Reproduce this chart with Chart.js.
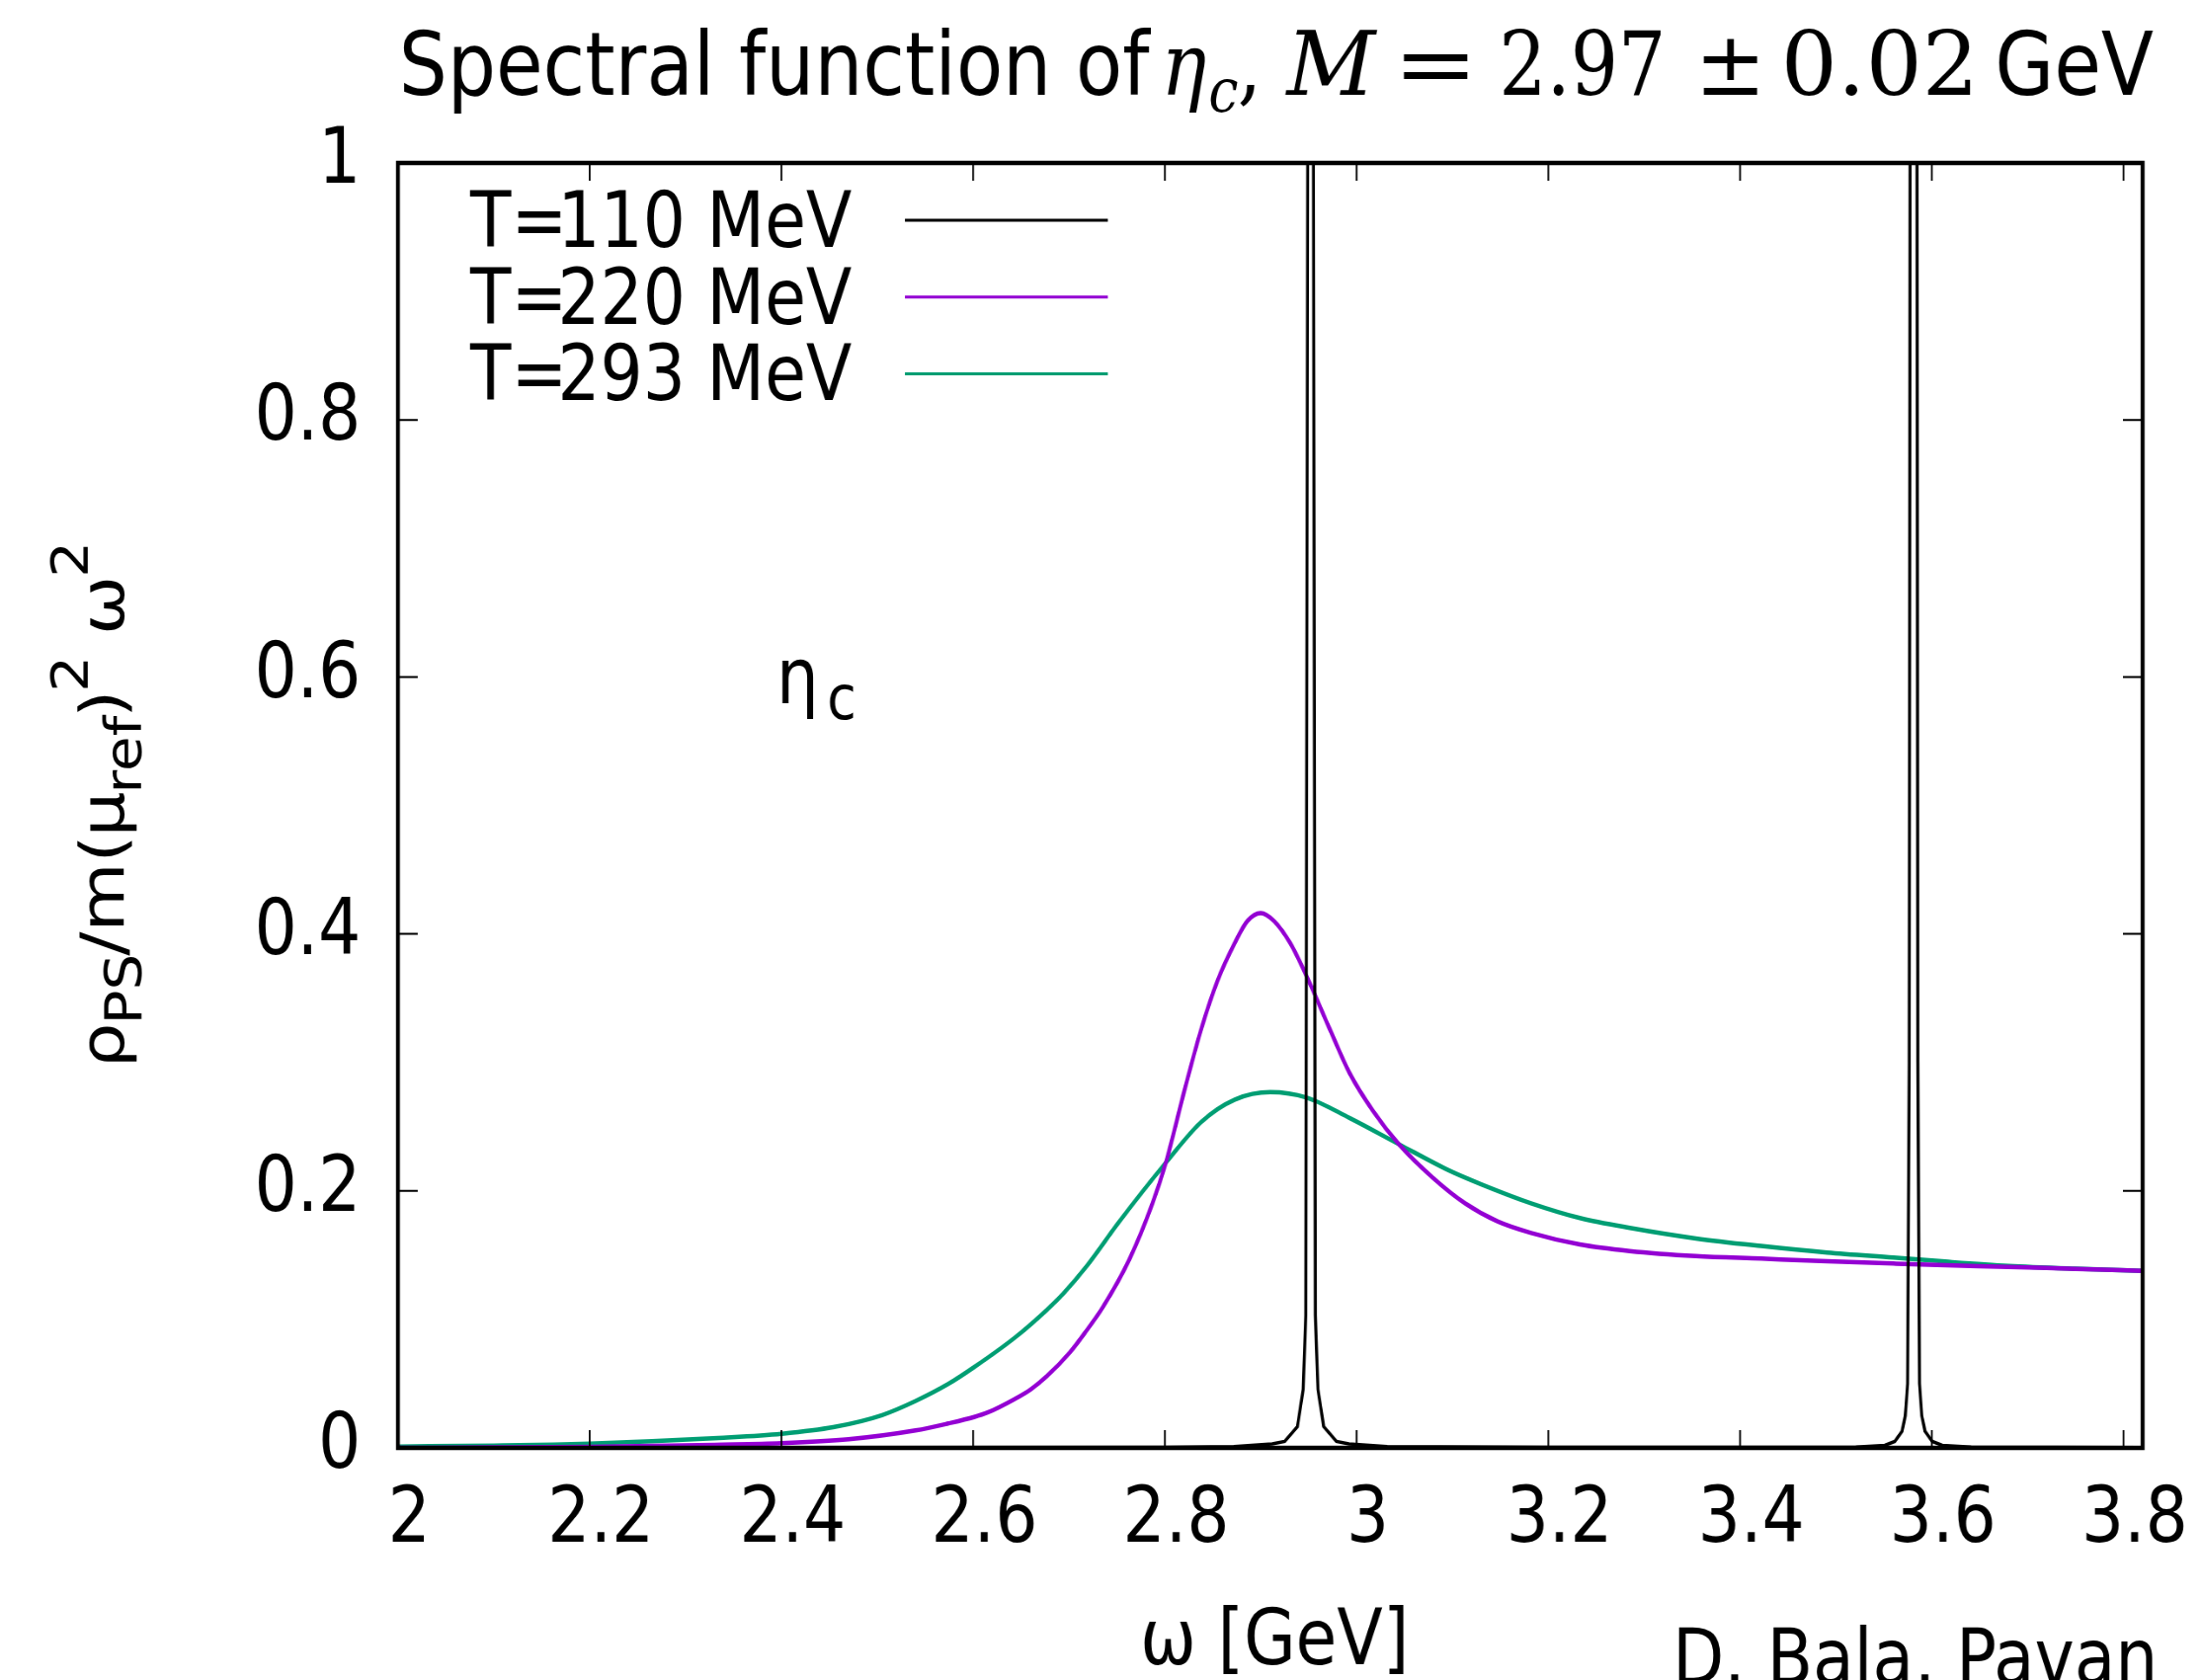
<!DOCTYPE html>
<html>
<head>
<meta charset="utf-8">
<script src="https://cdn.jsdelivr.net/npm/chart.js@4/dist/chart.umd.min.js"></script>
<style>
  html, body { margin: 0; padding: 0; background: #fff; overflow: hidden; }
  /* the original figure is squeezed sideways, so draw wide and squeeze */
  #wrap { width: 2562px; height: 1701px; transform: scaleX(0.87); transform-origin: 0 0; }
</style>
</head>
<body>
<div id="wrap"><canvas id="Plot" width="2562" height="1701"></canvas></div>
<script>
// tick positions
var xTicks = [2, 2.2, 2.4, 2.6, 2.8, 3, 3.2, 3.4, 3.6, 3.8];
var yTicks = [0, 0.2, 0.4, 0.6, 0.8, 1];

var labels = ['T=110 MeV', 'T=220 MeV', 'T=293 MeV'];
var colors = ['#000000', '#9400d3', '#009e73'];

// T=110 MeV : two very narrow peaks (tops run off the plot)
var omega110 = [2.0, 2.8, 2.872, 2.912, 2.925, 2.9383, 2.9443, 2.947, 2.949, 2.952,
  2.955, 2.957, 2.9597, 2.9657, 2.979, 2.992, 3.032, 3.2, 3.4, 3.521, 3.551, 3.5614,
  3.569, 3.5724, 3.5748, 3.5765, 3.5774, 3.581, 3.5846, 3.5855, 3.5872, 3.5896,
  3.593, 3.6006, 3.611, 3.641, 3.82];
var rho110 = [0, 0.0003, 0.001, 0.003, 0.005, 0.0166, 0.0455, 0.103, 1.0, 3.0,
  1.0, 0.103, 0.0455, 0.0166, 0.005, 0.003, 0.001, 0.0003, 0.0003, 0.0005, 0.002, 0.005,
  0.013, 0.025, 0.05, 0.3, 1.0, 3.0, 1.0, 0.3, 0.05, 0.025,
  0.013, 0.005, 0.002, 0.0005, 0.0001];

// T=220 MeV
var omega220 = [2.0, 2.1, 2.2, 2.265, 2.33, 2.4, 2.47, 2.54, 2.574, 2.601, 2.615,
  2.643, 2.66, 2.677, 2.701, 2.718, 2.735, 2.763, 2.787, 2.801, 2.821, 2.838, 2.855,
  2.873, 2.886, 2.9, 2.914, 2.931, 2.95, 2.972, 2.993, 3.017, 3.044, 3.079, 3.113,
  3.147, 3.182, 3.233, 3.285, 3.354, 3.422, 3.491, 3.56, 3.614, 3.68, 3.75, 3.82];
var rho220 = [0, 0.0003, 0.0008, 0.0015, 0.0024, 0.0036, 0.0067, 0.0136, 0.019, 0.024, 0.0275,
  0.0379, 0.0455, 0.0559, 0.0744, 0.091, 0.1091, 0.1467, 0.1901, 0.2219, 0.2798, 0.326, 0.3636,
  0.393, 0.41, 0.4163, 0.41, 0.3925, 0.3636, 0.326, 0.2913, 0.2624, 0.2364, 0.2106, 0.1904,
  0.1763, 0.1673, 0.1583, 0.1532, 0.1493, 0.1473, 0.1453, 0.1435, 0.1422, 0.1409, 0.1393, 0.1378];

// T=293 MeV
var omega293 = [2.0, 2.1, 2.162, 2.2, 2.265, 2.334, 2.4, 2.454, 2.505, 2.54, 2.574,
  2.601, 2.643, 2.677, 2.694, 2.718, 2.752, 2.801, 2.838, 2.873, 2.91, 2.948,
  2.993, 3.044, 3.096, 3.13, 3.182, 3.233, 3.285, 3.354, 3.422, 3.491, 3.56, 3.614,
  3.68, 3.75, 3.82];
var rho293 = [0.001, 0.0018, 0.0025, 0.0033, 0.0051, 0.0077, 0.011, 0.0161, 0.0255, 0.0365, 0.0497,
  0.0628, 0.0855, 0.1075, 0.12, 0.141, 0.1756, 0.2219, 0.2537, 0.2711, 0.2769, 0.2726,
  0.2566, 0.2364, 0.2161, 0.2052, 0.1904, 0.1789, 0.1712, 0.163, 0.1571, 0.152, 0.1481, 0.145,
  0.1417, 0.1395, 0.1378];

function pts(xs, ys) {
  return xs.map(function(x, i) { return {x: x, y: ys[i]}; });
}

var SANS = '"DejaVu Sans", sans-serif';
var SERIF = '"DejaVu Serif", serif';

function put(c, s, x, y, size, fam, style, align, sx) {
  c.save();
  c.font = (style ? style + ' ' : '') + size + 'px ' + fam;
  c.textAlign = align || 'left';
  c.textBaseline = 'alphabetic';
  c.fillStyle = 'black';
  c.translate(x, y);
  c.scale(sx || 1, 1);
  c.fillText(s, 0, 0);
  c.restore();
}

// y axis label pieces: text, 0 normal / 1 subscript / -1 superscript
var yLabel = [['ρ', 0], ['PS', 1], ['/m(', 0], ['μ', 0], ['ref', 1], [')', 0], ['2', -1], [' ω', 0], ['2', -1]];

var frame = {
  id: 'frame',
  afterDatasetsDraw: function(chart) {
    var c = chart.ctx, a = chart.chartArea;
    var xs = chart.scales.x, ys = chart.scales.y;
    c.save();
    c.strokeStyle = 'black';
    c.lineWidth = 2;
    c.beginPath();
    xTicks.forEach(function(v) {
      var px = xs.getPixelForValue(v);
      c.moveTo(px, a.bottom); c.lineTo(px, a.bottom - 18);
      c.moveTo(px, a.top); c.lineTo(px, a.top + 18);
    });
    yTicks.forEach(function(v) {
      var py = ys.getPixelForValue(v);
      c.moveTo(a.left, py); c.lineTo(a.left + 23, py);
      c.moveTo(a.right, py); c.lineTo(a.right - 23, py);
    });
    c.stroke();
    c.lineWidth = 4.5;
    c.strokeRect(a.left, a.top, a.right - a.left, a.bottom - a.top);

    // key, text right aligned and sample line to the right
    chart.data.datasets.forEach(function(ds, i) {
      var yc = 223 + i * 77.7;
      var parts = ds.label.split('=');
      put(c, parts[1], 991, yc + 27, 78, SANS, '', 'right');
      put(c, parts[0] + '=', 660, yc + 27, 78, SANS, '', 'right');
      c.strokeStyle = ds.borderColor;
      c.lineWidth = 3;
      c.beginPath();
      c.moveTo(1053, yc); c.lineTo(1289, yc);
      c.stroke();
    });

    // label inside the plot
    var lx = xs.getPixelForValue(2.4), ly = ys.getPixelForValue(0.6);
    put(c, 'η', lx - 6, ly + 27, 78, SANS);
    put(c, 'c', lx + 53, ly + 43, 62, SANS);
    c.restore();
  },
  afterDraw: function(chart) {
    var c = chart.ctx;
    c.save();
    // title
    put(c, 'Spectral function of', 464, 96, 89, SANS);
    put(c, 'η', 1351, 96, 88, SERIF, 'italic');
    put(c, 'c', 1406, 113, 62, SERIF, 'italic');
    put(c, ',', 1440, 96, 88, SERIF);
    put(c, 'M', 1497, 96, 90, SERIF, 'italic', 'left', 1.12);
    put(c, '=', 1621, 96, 90, SERIF, '', 'left', 1.31);
    put(c, '2.97', 1744, 96, 90, SERIF, '', 'left', 0.97);
    put(c, '±', 1972, 96, 90, SERIF, '', 'left', 1.1);
    put(c, '0.02', 2072, 96, 90, SERIF, '', 'left', 1.15);
    put(c, 'GeV', 2321, 96, 89, SANS);

    // y axis label, rotated, centred on the plot height
    var a = chart.chartArea;
    var big = 72, small = 58, gap = -2;
    var total = 0;
    yLabel.forEach(function(p) {
      c.font = (p[1] ? small : big) + 'px ' + SANS;
      total += c.measureText(p[0]).width + gap;
    });
    c.translate(144, (a.top + a.bottom) / 2);
    c.rotate(-Math.PI / 2);
    var s = -total / 2;
    yLabel.forEach(function(p) {
      var size = p[1] ? small : big;
      var dy = p[1] === 1 ? 20 : (p[1] === -1 ? -42 : 0);
      put(c, p[0], s, dy, size, SANS);
      c.font = size + 'px ' + SANS;
      s += c.measureText(p[0]).width + gap;
    });
    c.restore();

    c.save();
    put(c, 'ω [GeV]', 1483, 1685, 78, SANS, '', 'center');
    put(c, 'D. Bala, Pavan', 1946, 1705, 78, SANS);
    c.restore();
  }
};

var ctx = document.getElementById('Plot').getContext('2d');

var myChart = new Chart(ctx, {
  type: 'line',
  data: {
    datasets: [
      { label: labels[0], data: pts(omega110, rho110), borderColor: colors[0], borderWidth: 3.5, tension: 0 },
      { label: labels[1], data: pts(omega220, rho220), borderColor: colors[1], borderWidth: 4.5, cubicInterpolationMode: 'monotone' },
      { label: labels[2], data: pts(omega293, rho293), borderColor: colors[2], borderWidth: 4.5, cubicInterpolationMode: 'monotone' }
    ]
  },
  options: {
    responsive: false,
    devicePixelRatio: 1,
    animation: false,
    layout: { padding: { top: 165, right: 69, left: 0, bottom: 0 } },
    elements: { point: { radius: 0 } },
    plugins: {
      legend: { display: false },
      tooltip: { enabled: false },
      title: { display: false }
    },
    scales: {
      x: {
        type: 'linear',
        min: 2,
        max: 3.82,
        grid: { display: false, drawTicks: false },
        border: { display: false },
        afterBuildTicks: function(scale) { scale.ticks = xTicks.map(function(v) { return {value: v}; }); },
        afterFit: function(scale) { scale.height = 235; },
        ticks: {
          autoSkip: false,
          maxRotation: 0,
          padding: 28,
          labelOffset: 13,
          color: 'black',
          font: { family: SANS, size: 78 },
          callback: function(v) { return String(v); }
        }
      },
      y: {
        min: 0,
        max: 1,
        grid: { display: false, drawTicks: false },
        border: { display: false },
        afterBuildTicks: function(scale) { scale.ticks = yTicks.map(function(v) { return {value: v}; }); },
        afterFit: function(scale) { scale.width = 463; },
        ticks: {
          padding: 43,
          color: 'black',
          font: { family: SANS, size: 78 },
          callback: function(v) { return String(v); }
        }
      }
    }
  },
  plugins: [frame]
});
</script>
</body>
</html>
